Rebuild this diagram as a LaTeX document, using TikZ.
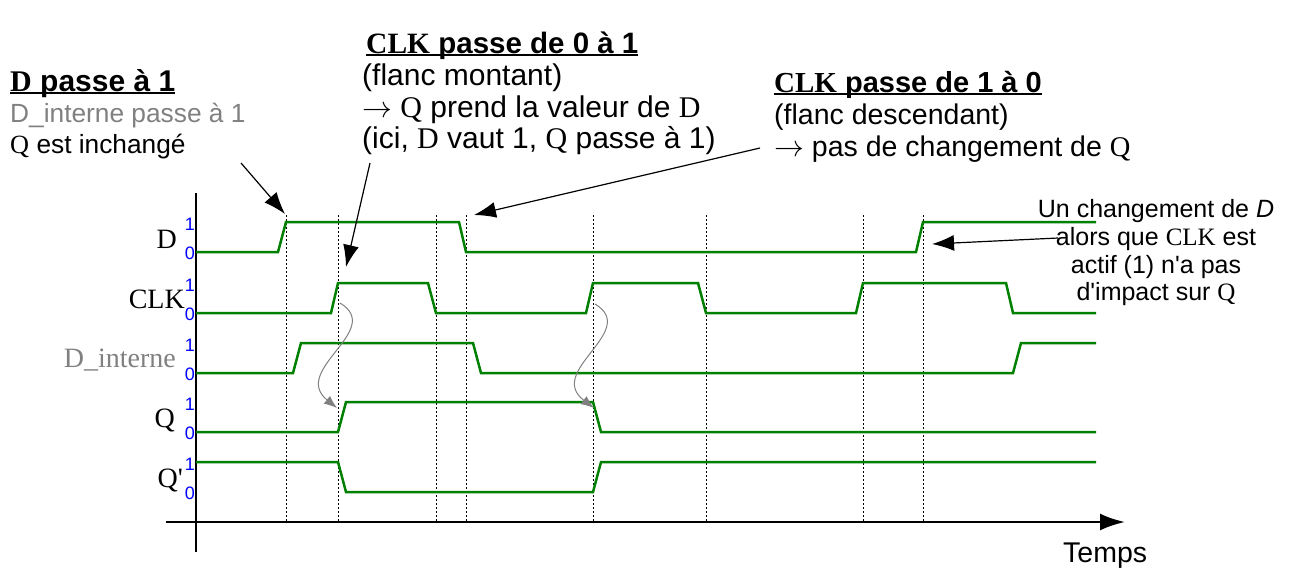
\documentclass[tikz,border=0pt]{standalone}
\usepackage{fontspec}
\setmainfont{Liberation Sans}
\newfontfamily\tms{Liberation Serif}
\usetikzlibrary{arrows.meta}

\definecolor{sig}{RGB}{0,128,0}
\definecolor{lvl}{RGB}{0,0,255}
\definecolor{dint}{RGB}{128,128,128}

\newcommand\souligne[1]{\setbox0\hbox{#1}\rlap{\rule[-3pt]{\wd0}{2pt}}\box0}
\newcommand\fleche{\smash{\scalebox{1.2}{$\rightarrow$}}}

\begin{document}
\begin{tikzpicture}[%
x=1pt, y=-1pt,
wave/.style={color=sig, line width=2.5pt},
dotline/.style={color=black, line width=1pt, dash pattern=on 2pt off 2pt},
axis/.style={color=black, line width=2.5pt},
bit/.style={color=lvl, inner sep=0pt, font=\fontsize{18}{18}\selectfont},
signame/.style={inner sep=0pt, anchor=base east, font=\tms\fontsize{28}{28}\selectfont},
headline/.style={inner sep=0pt, anchor=base west, font=\bfseries\fontsize{29.5}{30}\selectfont},
txt/.style={inner sep=0pt, anchor=base west, font=\fontsize{#1}{30}\selectfont},
remarque/.style={inner sep=0pt, anchor=base, font=\fontsize{25}{28}\selectfont},
annot/.style={color=black, line width=1.2pt, -{Latex[length=22pt,width=16pt]}},
effet/.style={color=dint, line width=1pt, -{Latex[length=13pt,width=10pt]}},
]
\useasboundingbox (0,0) rectangle (1305,574);
%% axes;
\coordinate (xstart) at (166,522);
\coordinate (xend) at (1125,522);
\coordinate (ytop) at (196,193);
\coordinate (ybot) at (196,552);
\draw [axis, -{Latex[length=25pt,width=17pt]}] (xstart) -- (xend);
\draw [axis] (ytop) -- (ybot);
%% instants;
\draw [dotline] (286,215) -- (286,522);
\draw [dotline] (338,215) -- (338,522);
\draw [dotline] (436,215) -- (436,522);
\draw [dotline] (466,215) -- (466,522);
\draw [dotline] (593,215) -- (593,522);
\draw [dotline] (706,215) -- (706,522);
\draw [dotline] (863,215) -- (863,522);
\draw [dotline] (923,215) -- (923,522);
%% D;
\draw [wave] (196,252) -- (278,252) -- (286,222) -- (459,222) -- (466,252) -- (916,252) -- (923,222) -- (1096,222);
%% CLK;
\draw [wave] (196,313) -- (331,313) -- (338,283) -- (428,283) -- (436,313) -- (586,313) -- (593,283) -- (698,283) -- (706,313) -- (856,313) -- (863,283) -- (1006,283) -- (1013,313) -- (1096,313);
%% D_interne;
\draw [wave] (196,373) -- (293,373) -- (301,343) -- (473,343) -- (481,373) -- (1013,373) -- (1021,343) -- (1096,343);
%% Q;
\draw [wave] (196,432) -- (338,432) -- (346,402) -- (593,402) -- (601,432) -- (1096,432);
%% Q';
\draw [wave] (196,462) -- (338,462) -- (346,492) -- (593,492) -- (601,462) -- (1096,462);
%% signal names;
\node [signame] (nd) at (177,248) {D};
\node [signame] (nclk) at (185,308) {CLK};
\node [signame, color=dint] (ndi) at (176,367) {D\_interne};
\node [signame] (nq) at (175,427) {Q};
\node [signame] (nqb) at (183,487) {Q\textquotesingle};
%% levels;
\node [bit] (d1) at (190,224) {1};
\node [bit] (d0) at (190,253) {0};
\node [bit] (clk1) at (190,285) {1};
\node [bit] (clk0) at (190,314) {0};
\node [bit] (di1) at (190,345) {1};
\node [bit] (di0) at (190,374) {0};
\node [bit] (q1) at (190,404) {1};
\node [bit] (q0) at (190,433) {0};
\node [bit] (qb1) at (190,464) {1};
\node [bit] (qb0) at (190,493) {0};
%% label;
\node [headline, font=\bfseries\fontsize{30}{30}\selectfont] (t1a) at (10,91) {\souligne{{\tms D} passe à 1}};
\node [txt=26.3, color=dint] (t1b) at (10,122) {D\_interne passe à 1};
\node [txt=26.3] (t1c) at (10,153) {{\tms Q} est inchangé};
%% label;
\node [headline] (t2a) at (366,53) {\souligne{{\tms CLK} passe de 0 à 1}};
\node [txt=30] (t2b) at (362,85) {(flanc montant)};
\node [txt=30] (t2c) at (362,117) {\fleche{} {\tms Q} prend la valeur de {\tms D}};
\node [txt=30] (t2d) at (362,148) {(ici, {\tms D} vaut 1, {\tms Q} passe à 1)};
%% label;
\node [headline, font=\bfseries\fontsize{29}{30}\selectfont] (t3a) at (774,92) {\souligne{{\tms CLK} passe de 1 à 0}};
\node [txt=28.5] (t3b) at (774,124) {(flanc descendant)};
\node [txt=28.5] (t3c) at (774,156) {\fleche{} pas de changement de {\tms Q}};
%% label;
\node [remarque] (t4a) at (1156,217) {Un changement de \textit{D}};
\node [remarque] (t4b) at (1156,245) {alors que {\tms CLK} est};
\node [remarque] (t4c) at (1156,273) {actif (1) n\textquotesingle a pas};
\node [remarque] (t4d) at (1156,300) {d\textquotesingle impact sur {\tms Q}};
%% label;
\node [txt=28.5] (temps) at (1063,562) {Temps};
%% pointers;
\coordinate (a1s) at (241,163);
\coordinate (a1e) at (285,214);
\coordinate (a2s) at (370,163);
\coordinate (a2e) at (346,267);
\coordinate (a3s) at (760,148);
\coordinate (a3e) at (474,215);
\coordinate (a4s) at (1058,238);
\coordinate (a4e) at (932,244);
\draw [annot] (a1s) -- (a1e);
\draw [annot] (a2s) -- (a2e);
\draw [annot] (a3s) -- (a3e);
\draw [annot] (a4s) -- (a4e);
%% clock edges;
\coordinate (c1s) at (340,303);
\coordinate (c1e) at (337,408);
\coordinate (c2s) at (595,304);
\coordinate (c2e) at (594,408);
\draw [effet] (c1s) .. controls (385,330) and (290,370) .. (c1e);
\draw [effet] (c2s) .. controls (640,331) and (545,371) .. (c2e);
\end{tikzpicture}
\end{document}
